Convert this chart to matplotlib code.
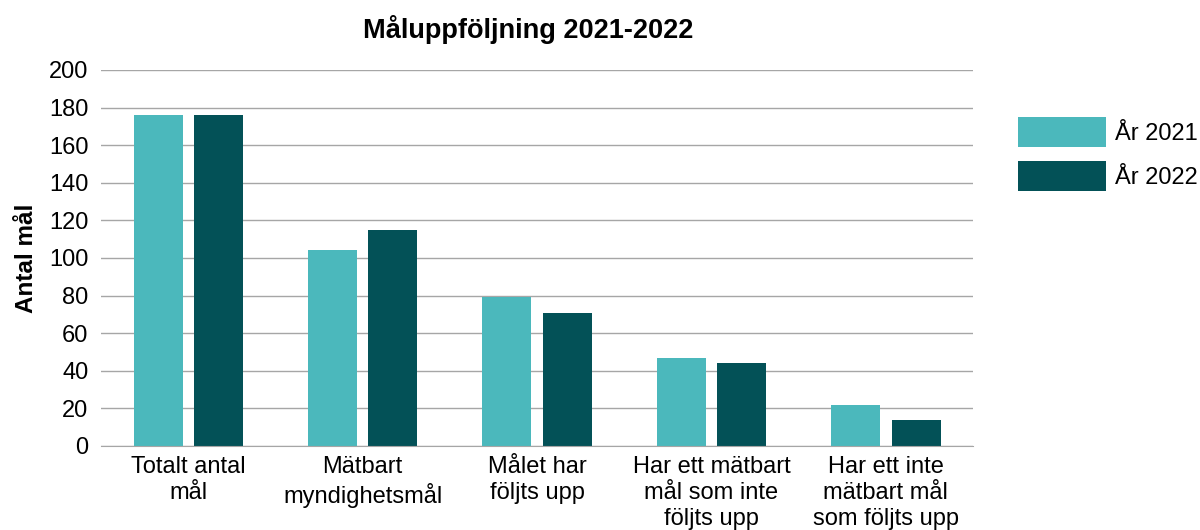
import numpy as np
import matplotlib
matplotlib.use('Agg')
import matplotlib.pyplot as plt

plt.rcParams['font.family'] = ['Liberation Sans', 'DejaVu Sans']

categories = [
    'Totalt antal\nmål',
    'Mätbart\nmyndighetsmål',
    'Målet har\nföljts upp',
    'Har ett mätbart\nmål som inte\nföljts upp',
    'Har ett inte\nmätbart mål\nsom följts upp',
]
values_2021 = [176, 104, 79, 47, 22]
values_2022 = [176, 115, 71, 44, 14]
series_names = ['År 2021', 'År 2022']
colors = ['#4BB8BC', '#035157']
yticks = [0, 20, 40, 60, 80, 100, 120, 140, 160, 180, 200]


def main():
    fig = plt.figure(figsize=(12, 5.3), dpi=100)
    ax = fig.add_axes([0.0842, 0.1585, 0.7267, 0.7095])

    x = np.arange(len(categories))
    width = 0.281
    offset = 0.173
    ax.bar(x - offset, values_2021, width, color=colors[0], label=series_names[0], zorder=3)
    ax.bar(x + offset, values_2022, width, color=colors[1], label=series_names[1], zorder=3)

    ax.set_xlim(-0.5, len(categories) - 0.5)
    ax.set_ylim(0, 200)
    ax.set_yticks(yticks)
    ax.set_xticks(x)
    ax.set_xticklabels(categories, fontsize=17, linespacing=1.24)
    ax.tick_params(axis='y', labelsize=17, length=0, pad=9)
    ax.tick_params(axis='x', length=0, pad=7)

    ax.yaxis.grid(True, color='#A6A6A6', linewidth=1, zorder=0)
    for side in ['top', 'right', 'left']:
        ax.spines[side].set_visible(False)
    ax.spines['bottom'].set_color('#A6A6A6')
    ax.spines['bottom'].set_zorder(4)

    ax.set_ylabel('Antal mål', fontsize=17.5, fontweight='bold', labelpad=8)
    fig.suptitle('Måluppföljning 2021-2022', fontsize=19.5, fontweight='bold', x=0.44, y=0.972)

    ax.legend(loc='upper left', bbox_to_anchor=(0.848, 0.779), bbox_transform=fig.transFigure,
              frameon=False, fontsize=17, handlelength=3.73, handleheight=1.56,
              labelspacing=0.6, handletextpad=0.4, borderaxespad=0, borderpad=0)

    fig.savefig('out.png', dpi=100)


if __name__ == '__main__':
    main()
